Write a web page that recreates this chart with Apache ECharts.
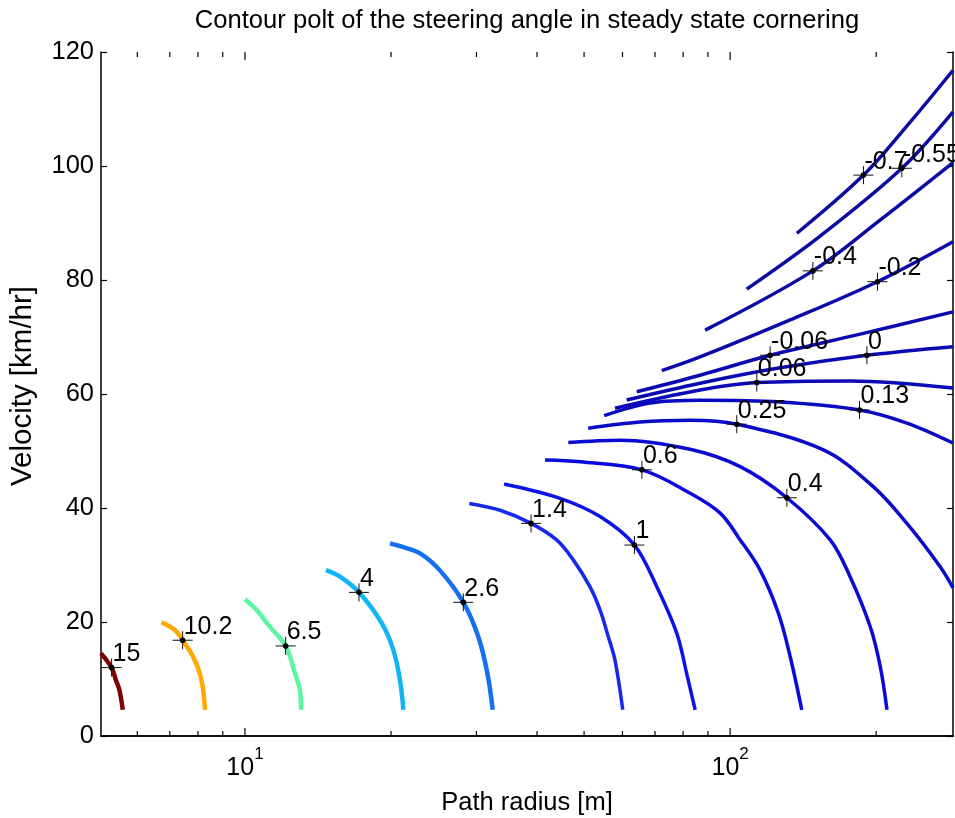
<!DOCTYPE html>
<html>
<head>
<meta charset="utf-8">
<script src="https://cdn.jsdelivr.net/npm/echarts/dist/echarts.min.js"></script>
<style>
  html, body { margin: 0; padding: 0; background: #ffffff; }
  #chart { width: 955px; height: 818px; }
</style>
</head>
<body>
<div id="chart"></div>
<script>
// Contour levels of the steering angle (deg), one traced line per level.
const levelLabels = ['15', '10.2', '6.5', '4', '2.6', '1.4', '1', '0.6', '0.4',
                     '0.25', '0.13', '0.06', '0', '-0.06', '-0.2', '-0.4', '-0.55', '-0.7'];

// Path radius [m] / velocity [km/hr] along each contour line
const r_15   = [5.05, 5.31, 5.42, 5.51, 5.60];
const v_15   = [14.5, 12.0, 9.8, 8.1, 4.6];
const r_10_2 = [6.73, 7.17, 7.44, 7.82, 8.07, 8.20, 8.27];
const v_10_2 = [19.95, 18.6, 16.8, 13.9, 11.0, 8.1, 4.6];
const r_6_5  = [10.0, 10.57, 11.17, 12.13, 12.68, 12.98, 13.05];
const v_6_5  = [24.0, 22.1, 19.5, 15.8, 11.0, 8.1, 4.6];
const r_4    = [14.69, 15.7, 17.18, 19.14, 20.22, 20.87, 21.21];
const v_4    = [29.1, 27.95, 25.2, 19.8, 15.1, 9.8, 4.6];
const r_2_6  = [19.9, 20.87, 22.95, 25.2, 28.19, 30.27, 31.6, 32.41];
const v_2_6  = [33.8, 33.3, 32.05, 29.1, 23.45, 17.4, 11.0, 4.6];
const r_1_4  = [29.0, 33.57, 38.88, 43.9, 47.5, 51.4, 53.95, 56.1, 57.9, 60.08];
const v_1_4  = [40.8, 39.6, 37.3, 34.4, 30.9, 26.2, 22.1, 17.4, 13.3, 4.6];
const r_1    = [34.2, 44.6, 53.95, 63.5, 70.6, 77.65, 81.65, 84.7];
const v_1    = [44.2, 41.7, 38.5, 33.5, 26.2, 18.0, 10.4, 4.6];
const r_0_6  = [41.55, 49.1, 65.8, 82.7, 95.4, 104.9, 115.3, 125.8, 133.0, 140.5];
const v_0_6  = [48.4, 48.1, 46.7, 42.6, 39.1, 34.4, 29.1, 21.5, 13.9, 4.6];
const r_0_4  = [46.4, 59.3, 82.7, 104.9, 130.9, 160.8, 176.8, 194.4, 203.9, 210.5];
const v_0_4  = [51.5, 51.9, 50.3, 47.25, 41.8, 34.4, 27.9, 19.2, 12.2, 4.6];
const r_0_25 = [51.0, 65.2, 82.7, 103.2, 155.7, 197.5, 231.4, 271, 288];
const v_0_25 = [54.0, 55.1, 55.4, 54.7, 50.2, 43.7, 37.3, 29.7, 26.0];
const r_0_13 = [55.0, 68.4, 86.7, 126.8, 184.8, 231.4, 288];
const v_0_13 = [56.2, 58.4, 58.9, 58.6, 57.2, 54.9, 51.4];
const r_0_06 = [57.9, 86.7, 113.5, 176.8, 288];
const v_0_06 = [57.5, 60.7, 62.0, 62.3, 61.05];
const r_0    = [61.2, 86.7, 126.8, 191.4, 288];
const v_0    = [58.95, 61.9, 64.6, 66.8, 68.3];
const r_m006 = [64.2, 86.7, 120.9, 185.4, 288];
const v_m006 = [60.4, 63.3, 66.8, 70.5, 74.4];
const r_m02  = [72.3, 86.7, 133, 201.2, 288];
const v_m02  = [64.1, 66.5, 73.0, 79.7, 86.7];
const r_m04  = [88.8, 148.1, 203.7, 288];
const v_m04  = [71.2, 81.6, 90.5, 100.6];
const r_m055 = [108.2, 153.3, 225.9, 288];
const v_m055 = [78.4, 87.7, 99.6, 109.5];
const r_m07  = [137.3, 188.3, 235, 288];
const v_m07  = [88.2, 98.4, 107.7, 116.8];

// Where each contour carries its level label
const markR = [5.31, 7.44, 12.13, 17.18, 28.19, 38.88, 63.5, 65.8, 130.9,
               103.2, 184.8, 113.5, 191.4, 120.9, 201.2, 148.1, 225.9, 188.3];
const markV = [12.0, 16.8, 15.8, 25.2, 23.45, 37.3, 33.5, 46.7, 41.8,
               54.7, 57.2, 62.0, 66.8, 66.8, 79.7, 81.6, 99.6, 98.4];

// Axis ranges and tick values
const xMin = 5.05, xMax = 288;
const yMin = 0, yMax = 120, yStep = 20;
const xTickVals = [6, 7, 8, 9, 10, 20, 30, 40, 50, 60, 70, 80, 90, 100, 200];

const radii  = [r_15, r_10_2, r_6_5, r_4, r_2_6, r_1_4, r_1, r_0_6, r_0_4,
                r_0_25, r_0_13, r_0_06, r_0, r_m006, r_m02, r_m04, r_m055, r_m07];
const speeds = [v_15, v_10_2, v_6_5, v_4, v_2_6, v_1_4, v_1, v_0_6, v_0_4,
                v_0_25, v_0_13, v_0_06, v_0, v_m006, v_m02, v_m04, v_m055, v_m07];

// jet-like colouring from the largest angle (dark red) down to the most negative (navy)
const lineColors = ['#7f0000', '#ffa800', '#5cf5a0', '#12b4f5', '#1470f0', '#1428ee',
                    '#0a14e6', '#0a0adc', '#0a0ad2', '#0a0ac8', '#0a0ac0', '#0a0ab8',
                    '#0a0ab4', '#0a0ab0', '#0a0aaa', '#0c0ca4', '#0c0ca0', '#0c0c9c'];

const FONT = '"Liberation Sans", Arial, Helvetica, sans-serif';

const contourSeries = radii.map((rs, i) => ({
  name: levelLabels[i],
  type: 'line',
  data: rs.map((r, k) => [r, speeds[i][k]]),
  showSymbol: false,
  smooth: 0.35,
  clip: true,
  lineStyle: { color: lineColors[i], width: i < 5 ? 4.5 : 3.5 },
  silent: true,
  z: 3
}));

// Inward tick marks on the bottom and top edges of the log axis
const xTickSeries = {
  type: 'custom',
  silent: true,
  data: xTickVals.map(v => [v]),
  renderItem: (params, api) => {
    const v = api.value(0);
    const major = Math.abs(Math.log10(v) - Math.round(Math.log10(v))) < 1e-9;
    const len = major ? 8 : 5;
    const b = api.coord([v, yMin]);
    const t = api.coord([v, yMax]);
    const st = { stroke: '#000', lineWidth: 1.2 };
    return {
      type: 'group',
      children: [
        { type: 'line', shape: { x1: b[0], y1: b[1], x2: b[0], y2: b[1] - len }, style: st },
        { type: 'line', shape: { x1: t[0], y1: t[1], x2: t[0], y2: t[1] + len }, style: st }
      ]
    };
  },
  z: 5
};

// Level labels: cross-hair marker with the value written above right
const labelSeries = {
  type: 'custom',
  silent: true,
  data: markR.map((r, i) => [r, markV[i]]),
  renderItem: (params, api) => {
    const p = api.coord([api.value(0), api.value(1)]);
    const txt = levelLabels[params.dataIndex];
    const st = { stroke: '#111', lineWidth: 1 };
    return {
      type: 'group',
      children: [
        { type: 'line', shape: { x1: p[0] - 10, y1: p[1], x2: p[0] + 10, y2: p[1] }, style: st },
        { type: 'line', shape: { x1: p[0], y1: p[1] - 9, x2: p[0], y2: p[1] + 9 }, style: st },
        { type: 'circle', shape: { cx: p[0], cy: p[1], r: 2.8 }, style: { fill: '#000' } },
        { type: 'text', x: p[0] + 1, y: p[1] - 1,
          style: { text: txt, fill: '#000', font: '25px ' + FONT,
                   align: 'left', verticalAlign: 'bottom',
                   textAlign: 'left', textVerticalAlign: 'bottom' } }
      ]
    };
  },
  z: 10
};

const chart = echarts.init(document.getElementById('chart'), null, { renderer: 'canvas' });

const axisLineStyle = { color: '#000', width: 1.5 };

chart.setOption({
  animation: false,
  backgroundColor: '#ffffff',
  title: {
    text: 'Contour polt of the steering angle in steady state cornering',
    left: 522,
    textAlign: 'center',
    top: 3,
    textStyle: { fontFamily: FONT, fontSize: 25.6, fontWeight: 'normal', color: '#000' }
  },
  grid: { left: 101, right: 2, top: 52, bottom: 82, containLabel: false, outerBoundsMode: 'none' },
  xAxis: [
    {
      type: 'log', logBase: 10, min: xMin, max: xMax, position: 'bottom',
      axisLine: { show: true, lineStyle: axisLineStyle },
      axisTick: { show: false },
      splitLine: { show: false },
      minorTick: { show: false },
      axisLabel: {
        margin: 10,
        showMinLabel: false, showMaxLabel: false,
        formatter: v => {
          const e = Math.log10(v);
          const n = Math.round(e);
          if (Math.abs(e - n) > 1e-6) return '';
          return '{b|10}{s|' + n + '}';
        },
        rich: {
          b: { fontFamily: FONT, fontSize: 25, color: '#000', lineHeight: 44 },
          s: { fontFamily: FONT, fontSize: 17, color: '#000', lineHeight: 17, verticalAlign: 'top' }
        }
      },
      name: 'Path radius [m]',
      nameLocation: 'middle',
      nameGap: 54,
      nameTextStyle: { fontFamily: FONT, fontSize: 25.5, color: '#000' }
    },
    {
      type: 'log', logBase: 10, min: xMin, max: xMax, position: 'top',
      axisLine: { show: true, lineStyle: axisLineStyle },
      axisTick: { show: false }, axisLabel: { show: false }, splitLine: { show: false }
    }
  ],
  yAxis: [
    {
      type: 'value', min: yMin, max: yMax, interval: yStep, position: 'left',
      axisLine: { show: true, lineStyle: axisLineStyle },
      axisTick: { show: true, inside: true, length: 6, lineStyle: { color: '#000', width: 1.2 } },
      splitLine: { show: false },
      axisLabel: { margin: 7, fontFamily: FONT, fontSize: 25.5, color: '#000' },
      name: 'Velocity [km/hr]',
      nameLocation: 'middle',
      nameGap: 63,
      nameTextStyle: { fontFamily: FONT, fontSize: 29.5, color: '#000', padding: [0, 0, 0, 16] }
    },
    {
      type: 'value', min: yMin, max: yMax, interval: yStep, position: 'right',
      axisLine: { show: true, lineStyle: axisLineStyle },
      axisTick: { show: true, inside: true, length: 6, lineStyle: { color: '#000', width: 1.2 } },
      axisLabel: { show: false }, splitLine: { show: false }
    }
  ],
  series: [...contourSeries, xTickSeries, labelSeries]
});
</script>
</body>
</html>
